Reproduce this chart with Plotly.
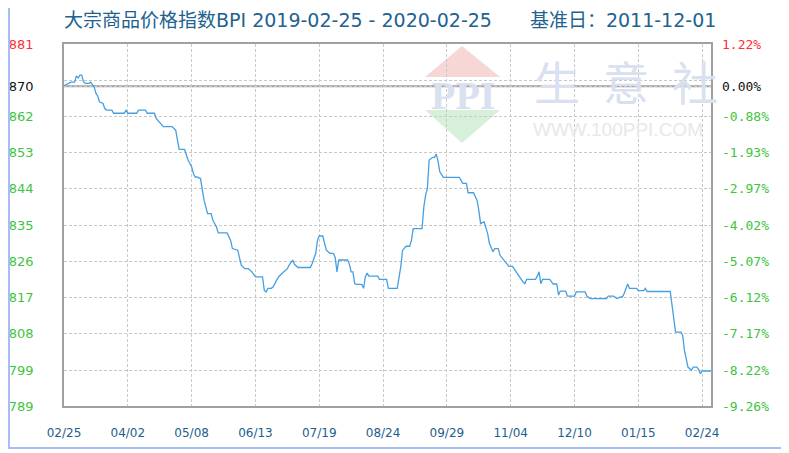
import plotly.graph_objects as go

# ---------------- data ----------------
title_text = "大宗商品价格指数BPI 2019-02-25 - 2020-02-25\u3000\u3000基准日：2011-12-01"

# days since 2019-02-25
days = [0, 2, 4, 6, 7, 8, 9, 10, 11, 12, 14, 15, 16, 17, 18, 19, 20, 22, 23, 24, 27, 28, 34, 35, 36, 41, 42, 46, 47,
        51, 52, 54, 56, 61, 63, 64, 65, 68, 69, 70, 72, 73, 74, 75, 77, 78, 79, 81, 83, 84, 86, 87, 92, 94, 95, 98,
        99, 100, 102, 104, 106, 108, 112, 113, 114, 115, 117, 118, 120, 121, 124, 126, 127, 129, 130, 132, 139, 140,
        142, 143, 144, 146, 147, 148, 150, 152, 153, 154, 155, 160, 161, 162, 163, 164, 165, 168, 169, 170, 171, 172,
        177, 178, 182, 183, 188, 190, 191, 193, 195, 196, 197, 202, 203, 204, 205, 206, 208, 209, 210, 211, 212, 214,
        223, 225, 227, 228, 231, 232, 233, 234, 235, 237, 238, 239, 240, 241, 242, 243, 245, 246, 247, 249, 251, 253,
        256, 257, 259, 260, 261, 266, 267, 268, 269, 270, 274, 276, 278, 279, 280, 283, 284, 288, 289, 294, 295, 297,
        306, 307, 310, 312, 314, 315, 316, 318, 319, 323, 324, 327, 328, 329, 342, 343, 344, 345, 348, 349, 350, 351,
        352, 354, 355, 357, 358, 359, 360, 365]
bpi = [870.4, 870.8, 871.3, 871.3, 872.9, 872.4, 873.1, 873.1, 871.4, 871.0, 871.0, 871.3, 870.8, 870.1, 868.5, 867.8,
       866.3, 865.9, 864.6, 864.2, 864.2, 863.4, 863.4, 864.2, 863.4, 863.4, 864.2, 864.2, 863.4, 863.4, 862.1, 861.0,
       860.0, 860.0, 859.1, 856.6, 854.2, 854.2, 852.8, 851.5, 849.8, 848.1, 847.2, 847.2, 846.8, 843.9, 841.3, 837.9,
       837.9, 836.2, 834.5, 833.0, 833.0, 831.1, 829.0, 828.6, 826.5, 824.8, 823.9, 823.9, 823.1, 821.8, 821.8, 818.4,
       818.0, 818.9, 818.9, 819.3, 821.0, 821.8, 823.1, 823.9, 824.8, 826.1, 825.0, 824.2, 824.2, 825.2, 827.8, 831.1,
       832.2, 832.2, 830.3, 828.6, 827.8, 827.8, 826.7, 823.1, 826.1, 826.1, 825.0, 823.1, 823.1, 820.1, 819.9, 819.9,
       818.9, 821.8, 822.8, 822.0, 822.0, 821.2, 821.2, 818.9, 818.9, 824.4, 828.6, 829.6, 829.6, 831.1, 834.1, 834.1,
       839.6, 842.6, 844.3, 851.5, 852.2, 852.2, 853.0, 851.3, 848.5, 847.1, 847.1, 845.6, 845.6, 843.2, 843.2, 842.2,
       841.3, 838.8, 835.4, 835.8, 834.5, 832.8, 830.3, 829.0, 828.2, 829.0, 829.0, 827.3, 826.7, 825.4, 824.5, 824.5,
       822.7, 821.8, 820.5, 820.1, 821.2, 821.2, 822.0, 823.1, 820.1, 821.2, 821.2, 820.0, 820.0, 817.2, 818.2, 818.2,
       816.9, 816.9, 818.0, 818.0, 816.9, 816.3, 816.3, 816.9, 816.9, 816.3, 816.7, 816.7, 817.6, 820.0, 818.9, 818.9,
       818.3, 818.3, 818.9, 818.1, 818.1, 815.0, 810.8, 807.8, 807.8, 807.0, 803.2, 800.6, 798.9, 798.1, 798.9, 798.9,
       798.3, 797.2, 797.9, 797.9]

x_tick_days = [0, 36, 72, 108, 144, 180, 216, 252, 288, 324, 360]
x_tick_labels = ["02/25", "04/02", "05/08", "06/13", "07/19", "08/24", "09/29", "11/04", "12/10", "01/15", "02/24"]

pct_ticks = [1.22, 0.00, -0.88, -1.93, -2.97, -4.02, -5.07, -6.12, -7.17, -8.22, -9.26]
val_labels = ["881", "870", "862", "853", "844", "835", "826", "817", "808", "799", "789"]
y_top, y_bot = 881.0, 789.0
pct_top, pct_bot = 1.22, -9.26

# ---------------- helpers ----------------
def pct_to_y(p):
    return y_bot + (p - pct_bot) / (pct_top - pct_bot) * (y_top - y_bot)

GREEN = "#3ec43e"
RED = "#ff3030"
BLACK = "#111111"

def col(p):
    if p > 0:
        return RED
    if p == 0:
        return BLACK
    return GREEN

tick_pos = [pct_to_y(p) for p in pct_ticks]
step = (pct_top - pct_bot) / 10
grid_pct = [pct_top - k * step for k in range(11)]
grid_pos = [pct_to_y(p) for p in grid_pct]

left_vals = grid_pos[:1] + [grid_pos[1]] + tick_pos[1:]
left_text = ["<span style='color:%s'>%s</span>" % (col(pct_ticks[0]), val_labels[0]), ""] + \
            ["<span style='color:%s'>%s</span>" % (col(p), t) for p, t in zip(pct_ticks[1:], val_labels[1:])]
right_text = ["<span style='color:%s'>%s</span>" % (col(pct_ticks[0]), "%.2f%%" % pct_ticks[0]), ""] + \
             ["<span style='color:%s'>%s</span>" % (col(p), "%.2f%%" % p) for p in pct_ticks[1:]]

# page offset of the figure (browser body margin)
OFF = 8
W, H = 789 - OFF, 453 - OFF
# plot area in page pixels
L, R, T, B = 64, 711, 44, 406
def px(x):
    return (x - L) / (R - L)
def py(y):
    return (B - y) / (B - T)

fig = go.Figure()
fig.add_trace(go.Scatter(x=days, y=bpi, mode="lines", line=dict(color="#45a0e2", width=1.3),
                         hoverinfo="skip", showlegend=False))
fig.add_trace(go.Scatter(x=days, y=bpi, mode="lines", line=dict(color="rgba(0,0,0,0)", width=0),
                         yaxis="y2", hoverinfo="skip", showlegend=False))

shapes = []
# watermark logo
shapes.append(dict(type="path", xref="paper", yref="paper", layer="below",
                   path="M %f %f L %f %f L %f %f Z" % (px(425), py(77), px(462), py(46), px(500), py(77)),
                   fillcolor="#f7d6d6", line=dict(width=0)))
shapes.append(dict(type="path", xref="paper", yref="paper", layer="below",
                   path="M %f %f L %f %f L %f %f Z" % (px(425), py(110), px(500), py(110), px(462), py(143)),
                   fillcolor="#d6f0da", line=dict(width=0)))
# 0% baseline
shapes.append(dict(type="line", xref="paper", yref="y", x0=0, x1=1, y0=pct_to_y(0), y1=pct_to_y(0),
                   layer="between", line=dict(color="#a0a0a0", width=2)))
# outer frame (light blue)
shapes.append(dict(type="path", xref="paper", yref="paper", layer="above",
                   path="M %f %f L %f %f L %f %f" % (px(9), py(0), px(9), py(448), px(784), py(448)),
                   line=dict(color="#a8bdf2", width=2)))
shapes.append(dict(type="rect", xref="paper", yref="paper", layer="above",
                   x0=px(784), x1=px(795), y0=py(460), y1=py(0),
                   fillcolor="#a8bdf2", line=dict(width=0)))

annotations = [
    dict(text="<b>PPI</b>", xref="paper", yref="paper", x=px(463), y=py(95), xanchor="center", yanchor="middle",
         showarrow=False, font=dict(family="Liberation Serif", size=40, color="#d9e0ef")),
    dict(text="生\u2002意\u2002社", xref="paper", yref="paper", x=px(626), y=py(80), xanchor="center",
         yanchor="middle", showarrow=False, font=dict(family="Noto Sans CJK SC", size=46, color="#d9e0ef")),
    dict(text="WWW.100PPI.COM", xref="paper", yref="paper", x=px(618), y=py(129), xanchor="center",
         yanchor="middle", showarrow=False, font=dict(family="Liberation Sans", size=19, color="#e8e8e8")),
    dict(text=title_text, xref="paper", yref="paper", x=px(62), y=py(20), xanchor="left", yanchor="middle",
         showarrow=False, font=dict(family="DejaVu Sans, Noto Sans CJK SC", size=19, color="#22628f")),
]

fig.update_layout(
    width=W, height=H,
    margin=dict(l=L - OFF, r=W - (R - OFF), t=T - OFF, b=H - (B - OFF), autoexpand=False),
    paper_bgcolor="white", plot_bgcolor="white",
    showlegend=False,
    shapes=shapes,
    annotations=annotations,
    xaxis=dict(range=[0, 365], tickvals=x_tick_days, ticktext=x_tick_labels, automargin=False,
               showgrid=True, gridcolor="#c8c8c8", griddash="3px,2px", gridwidth=1,
               zeroline=False, showline=True, linecolor="#a0a0a0", linewidth=1.5, mirror=True,
               ticks="", ticklabelstandoff=15,
               tickfont=dict(family="DejaVu Sans", size=12, color="#1d5e8e")),
    yaxis=dict(range=[y_bot, y_top], tickvals=left_vals, ticktext=left_text, automargin=False,
               showgrid=True, gridcolor="#c8c8c8", griddash="3px,2px", gridwidth=1,
               zeroline=False, showline=True, linecolor="#a0a0a0", linewidth=1.5, mirror=True,
               ticks="", ticklabelstandoff=26,
               tickfont=dict(family="DejaVu Sans", size=13, color=GREEN)),
    yaxis2=dict(range=[y_bot, y_top], tickvals=left_vals, ticktext=right_text, overlaying="y", side="right",
                automargin=False,
                showgrid=False, zeroline=False, showline=False, ticks="", ticklabelstandoff=10,
                tickfont=dict(family="DejaVu Sans Mono", size=13, color=GREEN)),
)

fig.write_html("out.html")
